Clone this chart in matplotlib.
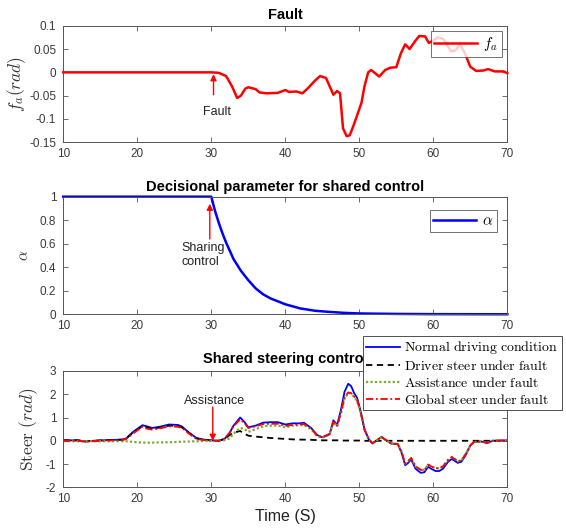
import matplotlib
matplotlib.use("Agg")
import matplotlib.pyplot as plt

plt.rcParams['font.family'] = ['Liberation Sans', 'DejaVu Sans']
plt.rcParams['mathtext.fontset'] = 'cm'

# ---------------- data ----------------
t_fault = [10, 30, 31, 32, 32.8, 33.5, 34, 34.6, 35, 36, 36.5, 37.5, 39, 40, 40.5, 41.5,
           42.3, 43, 44, 44.7, 45.5, 46, 46.5, 47, 47.4, 47.8, 48.3, 48.7, 49.2, 49.8,
           50.3, 50.7, 51.2, 51.6, 52.7, 53.5, 54.2, 55, 55.6, 56.2, 56.8, 57.5, 58.1,
           58.9, 59.4, 60, 60.6, 61.3, 62, 62.4, 63, 63.6, 64.3, 65, 65.8, 66.8, 67.4,
           68.3, 69.5, 70]
f_a = [0, 0, -0.001, -0.008, -0.03, -0.055, -0.05, -0.035, -0.032, -0.036, -0.043, -0.045,
       -0.044, -0.038, -0.042, -0.041, -0.045, -0.035, -0.018, -0.008, -0.012, -0.03,
       -0.048, -0.04, -0.045, -0.12, -0.137, -0.135, -0.115, -0.088, -0.065, -0.03, 0.0,
       0.005, -0.009, 0.005, 0.01, 0.011, 0.04, 0.06, 0.05, 0.066, 0.078, 0.077, 0.063,
       0.068, 0.075, 0.072, 0.055, 0.045, 0.047, 0.06, 0.04, 0.012, 0.003, 0.004, 0.007,
       0.002, 0.002, -0.002]

t_alpha = [10, 30, 30.5, 31, 31.5, 32, 32.5, 33, 33.5, 34, 35, 36, 37, 38, 40, 42, 44, 46,
           48, 50, 55, 60, 70]
alpha = [1, 1, 0.88, 0.78, 0.69, 0.61, 0.54, 0.47, 0.42, 0.37, 0.29, 0.22, 0.17, 0.135,
         0.085, 0.05, 0.03, 0.02, 0.012, 0.007, 0.003, 0.001, 0.0]

t_steer = [10, 12, 13, 14, 16, 18, 18.5, 19.5, 20.7, 21.3, 22, 23, 24.3, 25.5, 26, 27, 28,
           29, 30, 31, 31.8, 32.5, 33, 33.9, 34.5, 35, 36, 37, 38, 39, 40, 41, 42, 42.5,
           43.5, 44.3, 45, 46, 46.5, 47, 47.5, 48, 48.5, 48.9, 49.3, 49.7, 50.2, 50.7,
           51.3, 51.8, 52.5, 53, 53.5, 54.3, 55.2, 55.7, 56.2, 56.6, 57, 57.6, 58.3, 58.8,
           59.3, 59.7, 60.3, 60.8, 61.3, 62, 62.5, 63.3, 63.8, 64.4, 65, 65.5, 66.5, 67.3,
           68, 70]
normal = [0.02, 0.02, -0.03, 0.0, 0.03, 0.05, 0.1, 0.4, 0.67, 0.62, 0.55, 0.6, 0.7, 0.68,
          0.62, 0.35, 0.12, 0.05, 0.02, 0.0, 0.08, 0.35, 0.65, 1.0, 0.8, 0.58, 0.65, 0.78,
          0.8, 0.8, 0.7, 0.75, 0.75, 0.78, 0.55, 0.25, 0.15, 0.3, 0.88, 0.68, 1.3, 2.1,
          2.45, 2.35, 2.05, 1.85, 1.25, 0.5, 0.05, -0.12, 0.05, 0.17, 0.05, -0.12, -0.15,
          -0.5, -1.05, -0.95, -0.8, -1.2, -1.38, -1.35, -1.12, -1.2, -1.3, -1.3, -1.2,
          -0.9, -0.78, -0.95, -0.9, -0.6, -0.2, -0.05, -0.03, -0.1, 0.0, 0.02]
driver = [0.02, 0.02, -0.03, 0.0, 0.03, 0.05, 0.1, 0.38, 0.62, 0.58, 0.52, 0.57, 0.65,
          0.64, 0.58, 0.33, 0.1, 0.04, 0.02, 0.0, 0.08, 0.25, 0.35, 0.42, 0.3, 0.22, 0.18,
          0.15, 0.12, 0.1, 0.08, 0.06, 0.05, 0.05, 0.04, 0.03, 0.02, 0.02, 0.02, 0.02,
          0.01, 0.01, 0.01, 0.01, 0.01, 0.01, 0.01, 0.0, 0.0, 0.0, 0.0, 0.0, 0.0, 0.0,
          0.0, 0.0, 0.0, 0.0, 0.0, 0.0, 0.0, 0.0, 0.0, 0.0, 0.0, 0.0, 0.0, 0.0, 0.0, 0.0,
          0.0, 0.0, 0.0, 0.0, 0.0, 0.0, 0.0, 0.0]
assist = [-0.02, -0.02, -0.02, -0.02, -0.02, -0.02, -0.02, -0.05, -0.08, -0.08, -0.08,
          -0.07, -0.06, -0.05, -0.04, -0.03, -0.02, -0.01, 0.0, 0.0, 0.03, 0.1, 0.3, 0.55,
          0.5, 0.38, 0.5, 0.62, 0.65, 0.65, 0.58, 0.65, 0.67, 0.68, 0.5, 0.2, 0.13, 0.27,
          0.8, 0.62, 1.15, 1.8, 2.06, 2.03, 1.88, 1.72, 1.18, 0.48, 0.05, -0.1, 0.05, 0.15,
          0.05, -0.1, -0.14, -0.46, -0.98, -0.88, -0.74, -1.1, -1.25, -1.25, -1.02, -1.1,
          -1.18, -1.18, -1.1, -0.82, -0.7, -0.88, -0.84, -0.56, -0.2, -0.05, -0.03, -0.09,
          0.0, 0.02]
glob = [0.0, 0.0, -0.04, -0.02, 0.01, 0.03, 0.08, 0.33, 0.6, 0.52, 0.48, 0.53, 0.62,
        0.6, 0.56, 0.3, 0.08, 0.03, 0.01, 0.0, 0.1, 0.35, 0.62, 0.92, 0.75, 0.55, 0.62,
        0.72, 0.73, 0.73, 0.64, 0.68, 0.7, 0.72, 0.52, 0.23, 0.14, 0.28, 0.82, 0.64, 1.18,
        1.85, 2.08, 2.05, 1.9, 1.75, 1.2, 0.48, 0.05, -0.1, 0.05, 0.16, 0.05, -0.1, -0.14,
        -0.46, -0.98, -0.88, -0.74, -1.1, -1.25, -1.25, -1.02, -1.1, -1.18, -1.18, -1.1,
        -0.82, -0.7, -0.88, -0.84, -0.56, -0.2, -0.05, -0.03, -0.09, 0.0, 0.02]

x_ticks = [10, 20, 30, 40, 50, 60, 70]
fault_ticks = [-0.15, -0.1, -0.05, 0, 0.05, 0.1]
fault_ticklabels = ['-0.15', '-0.1', '-0.05', '0', '0.05', '0.1']
alpha_ticks = [0, 0.2, 0.4, 0.6, 0.8, 1]
alpha_ticklabels = ['0', '0.2', '0.4', '0.6', '0.8', '1']
steer_ticks = [-2, -1, 0, 1, 2, 3]

# ---------------- figure ----------------
fig = plt.figure(figsize=(5.66, 5.29), dpi=100)
L, W = 0.1118, 0.7845
ax1 = fig.add_axes([L, 0.731, W, 0.2204])
ax2 = fig.add_axes([L, 0.4059, W, 0.2223])
ax3 = fig.add_axes([L, 0.0788, W, 0.2199])

axcol = '#555555'
tkcol = '#3a3a3a'
for ax in (ax1, ax2, ax3):
    ax.set_xlim(10, 70)
    ax.set_xticks(x_ticks)
    ax.set_xticklabels([str(v) for v in x_ticks])
    for s in ax.spines.values():
        s.set_color(axcol)
        s.set_linewidth(0.7)
    ax.tick_params(direction='in', top=True, right=True, length=3.5, width=0.6,
                   color=axcol, labelcolor=tkcol, labelsize=8.5)
    ax.tick_params(axis='x', pad=4)
    ax.tick_params(axis='y', pad=5)

# Top
ax1.plot(t_fault, f_a, color='#ff0000', lw=1.8, label=r'$f_a$', clip_on=False)
ax1.set_ylim(-0.15, 0.1)
ax1.set_yticks(fault_ticks)
ax1.set_yticklabels(fault_ticklabels)
ax1.set_title('Fault', fontsize=10.5, fontweight='bold', pad=5)
ax1.set_ylabel(r'$f_a(rad)$', fontsize=12.5, color='#333333', labelpad=1)
ax1.annotate('', xy=(30.3, -0.004), xytext=(30.3, -0.048),
             arrowprops=dict(arrowstyle='-|>', color='red', lw=1.0, mutation_scale=9,
                             shrinkA=0, shrinkB=0))
ax1.text(30.8, -0.084, 'Fault', fontsize=9, ha='center', va='center', color='#222222')
lg1 = ax1.legend(loc='upper right', fontsize=11, handlelength=2.8, frameon=True,
                 fancybox=False, borderaxespad=0.35, borderpad=0.25, handletextpad=0.4)
lg1.get_frame().set_edgecolor('#333333')
lg1.get_frame().set_linewidth(0.6)

# Middle
ax2.plot(t_alpha, alpha, color='#0000ff', lw=1.8, label=r'$\alpha$', clip_on=False)
ax2.set_ylim(0, 1)
ax2.set_yticks(alpha_ticks)
ax2.set_yticklabels(alpha_ticklabels)
ax2.set_title('Decisional parameter for shared control', fontsize=10.5, fontweight='bold', pad=4)
ax2.set_ylabel(r'$\alpha$', fontsize=11, color='#333333', labelpad=6)
ax2.annotate('', xy=(29.8, 0.94), xytext=(29.8, 0.64),
             arrowprops=dict(arrowstyle='-|>', color='red', lw=1.0, mutation_scale=9,
                             shrinkA=0, shrinkB=0))
ax2.text(26.0, 0.505, 'Sharing\ncontrol', fontsize=9, ha='left', va='center',
         color='#222222', linespacing=1.2)
lg2 = ax2.legend(loc='upper right', fontsize=11, handlelength=2.8, frameon=True,
                 fancybox=False, borderaxespad=0.5, borderpad=0.25, handletextpad=0.4,
                 bbox_to_anchor=(0.995, 0.95))
lg2.get_frame().set_edgecolor('#333333')
lg2.get_frame().set_linewidth(0.6)

# Bottom
ax3.plot(t_steer, normal, color='#0000ff', lw=1.3, ls='-', label=r'$\mathrm{Normal\ driving\ condition}$')
ax3.plot(t_steer, driver, color='black', lw=1.3, ls=(0, (3.5, 2.5)), label=r'$\mathrm{Driver\ steer\ under\ fault}$')
ax3.plot(t_steer, assist, color='#77ac30', lw=1.6, ls=(0, (1, 1)), label=r'$\mathrm{Assistance\ under\ fault}$')
ax3.plot(t_steer, glob, color='#ff0000', lw=1.3, ls=(0, (4, 1.5, 1, 1.5)), label=r'$\mathrm{Global\ steer\ under\ fault}$')
ax3.set_ylim(-2, 3)
ax3.set_yticks(steer_ticks)
ax3.set_yticklabels([str(v) for v in steer_ticks])
ax3.set_title('Shared steering control', fontsize=10.5, fontweight='bold', pad=6)
ax3.set_ylabel(r'$\mathrm{Steer}\ (rad)$', fontsize=12.5, color='#333333', labelpad=4)
ax3.set_xlabel('Time (S)', fontsize=11.5, color='#222222', labelpad=3)
ax3.annotate('', xy=(30.2, 0.0), xytext=(30.2, 1.45),
             arrowprops=dict(arrowstyle='-|>', color='red', lw=1.0, mutation_scale=9,
                             shrinkA=0, shrinkB=0))
ax3.text(30.4, 1.72, 'Assistance', fontsize=9, ha='center', va='center', color='#222222')
lg3 = ax3.legend(loc='upper left', bbox_to_anchor=(363 / 566, 1 - 336 / 529),
                 bbox_transform=fig.transFigure, fontsize=10, handlelength=2.4,
                 frameon=True, fancybox=False, borderaxespad=0.0, borderpad=0.25,
                 labelspacing=0.2, handletextpad=0.3)
lg3.get_frame().set_edgecolor('#333333')
lg3.get_frame().set_linewidth(0.6)
lg3.get_frame().set_alpha(1)

fig.savefig('out.png', dpi=100)
